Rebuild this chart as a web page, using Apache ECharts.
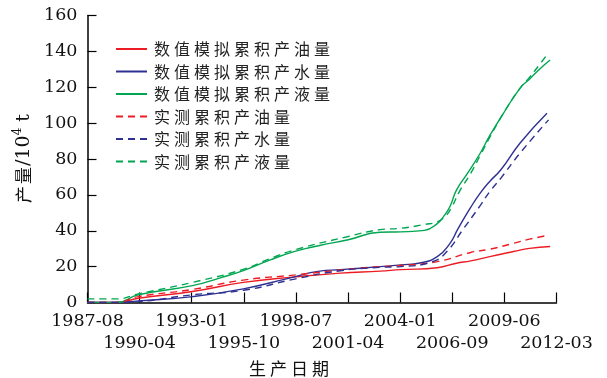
<!DOCTYPE html>
<html>
<head>
<meta charset="utf-8">
<script src="https://cdn.jsdelivr.net/npm/echarts@6/dist/echarts.min.js"></script>
<style>html,body{margin:0;padding:0;background:#fff;}#c{width:607px;height:378px;}</style>
</head>
<body>
<div id="c"></div>
<script>
// x values: months since 1987-08
var tickLabels = ['1987-08','1990-04','1993-01','1995-10','1998-07','2001-04','2004-01','2006-09','2009-06','2012-03'];
var totalMonths = 295;
var seriesNames = ['数值模拟累积产油量','数值模拟累积产水量','数值模拟累积产液量','实测累积产油量','实测累积产水量','实测累积产液量'];

var simOil = [[0,0],[18,0],[32,2.4],[66,6.1],[98,11.2],[131,14.3],[159,16.4],[184,17.5],[197,18.3],[220,19.4],[232,21.9],[241,23.2],[253,25.6],[268,28.4],[278,30.2],[291,31.2]];
var simWater = [[0,0],[18,0],[32,0.9],[66,3.3],[98,7.6],[127,13.6],[146,17.5],[159,18.3],[184,20],[197,21],[209,22],[220,25.6],[228,33],[233,41],[241,53],[247,61],[253,67.5],[260,74],[272,88.8],[289,105.5]];
var simLiquid = [[0,0],[18,0],[32,4.3],[66,9.4],[83,13.6],[98,17.8],[115,23.8],[131,28.6],[146,31.8],[164,35],[184,39.2],[197,39.4],[212,40.2],[220,44],[224,48],[228,53.5],[232,62.5],[239,72],[247,83.2],[253,93],[261,104.6],[272,119.4],[278,124.5],[285,130.6],[291,135.2]];
var obsOil = [[0,0],[18,0],[32,3.3],[66,7.3],[98,12.5],[131,15.4],[164,18.6],[184,20],[197,20.6],[220,22.8],[241,27.9],[253,29.7],[268,33],[278,35.3],[290,37.5]];
var obsWater = [[0,0],[18,0],[32,0.5],[66,4.3],[98,6.8],[131,13.2],[159,17.7],[184,19.6],[197,20],[217,22.8],[226,28.4],[236,40.5],[247,54],[253,61.8],[260,69.3],[272,83.2],[290,101.8]];
var obsLiquid = [[0,2],[18,2],[32,4.8],[66,11.2],[98,18.5],[115,24.5],[131,29.5],[164,36.8],[184,40.6],[197,41.4],[212,43.5],[220,45],[225,48],[229,53],[234,62],[241,72],[247,82],[253,92],[261,104.6],[272,119.4],[278,125.5],[285,133.4],[290,139.3]];

var step = totalMonths / (tickLabels.length - 1);
function toIdx(arr){ return arr.map(function(p){ return [p[0]/step, p[1]]; }); }
function spaced(s, tag){ return s.split('').map(function(ch){ return '{' + tag + '|' + ch + '}'; }).join(''); }

var RED = '#ED1C24', BLUE = '#2E3192', GREEN = '#00A651';
var serif = '"DejaVu Serif","Liberation Serif",serif';
var cjk = '"Noto Sans CJK SC","Noto Sans",sans-serif';

function mk(name, data, color, dashed){
  return {
    name: name, type: 'line', data: toIdx(data), symbol: 'none', showSymbol: false,
    smooth: 0.5, xAxisIndex: 0,
    lineStyle: {color: color, width: 1.4, type: dashed ? [7,5] : 'solid'},
    itemStyle: {color: color}
  };
}

function xAxisFor(parity, margin, showLine){
  return {
    type: 'value', min: 0, max: tickLabels.length - 1, interval: 1, position: 'bottom',
    splitLine: {show: false},
    axisLine: {show: showLine, lineStyle: {color: '#000', width: 1.5}},
    axisTick: {show: showLine, inside: true, length: 10, lineStyle: {color: '#000', width: 1.2}},
    axisLabel: {
      interval: 0, margin: margin, fontFamily: serif, fontSize: 17.5, color: '#111',
      showMinLabel: true, showMaxLabel: true, hideOverlap: false,
      formatter: function(v){ var i = Math.round(v); return (i % 2 === parity) ? (tickLabels[i] || '') : ''; }
    }
  };
}

var chart = echarts.init(document.getElementById('c'), null, {renderer: 'canvas'});
chart.setOption({
  animation: false,
  backgroundColor: '#fff',
  grid: {left: 87.5, right: 50.5, top: 15.5, bottom: 75.5, containLabel: false},
  legend: {
    orient: 'vertical', left: 110, top: 36,
    itemWidth: 31, itemHeight: 14, itemGap: 6.5,
    itemStyle: {opacity: 0},
    formatter: function(n){ return spaced(n, 'a'); },
    textStyle: {
      rich: {a: {fontFamily: cjk, fontSize: 16, lineHeight: 18, color: '#222', padding: [0,2,0,2]}}
    },
    data: seriesNames
  },
  xAxis: [xAxisFor(0, 10, true), xAxisFor(1, 32, false)],
  yAxis: {
    type: 'value', min: 0, max: 160, interval: 20,
    splitLine: {show: false},
    axisLine: {show: true, lineStyle: {color: '#000', width: 1.5}},
    axisTick: {show: true, inside: true, length: 9, lineStyle: {color: '#000', width: 1.2}},
    axisLabel: {margin: 10, fontFamily: serif, fontSize: 17.5, color: '#111'},
    name: spaced('产量', 'c') + '{s|/10}{sup|4}{s| t}',
    nameLocation: 'middle', nameGap: 50, nameRotate: 90,
    nameTextStyle: {
      rich: {
        c: {fontFamily: cjk, fontSize: 17, color: '#111', padding: [0,1,0,1]},
        s: {fontFamily: serif, fontSize: 19, color: '#111'},
        sup: {fontFamily: serif, fontSize: 12, color: '#111', verticalAlign: 'bottom', padding: [0,0,12,0]}
      }
    }
  },
  graphic: [{
    type: 'text', left: 249, top: 360,
    style: {
      text: spaced('生产日期', 'g'),
      rich: {g: {fontFamily: cjk, fontSize: 17, fill: '#111', padding: [0,2,0,2]}}
    }
  }],
  series: [
    mk(seriesNames[0], simOil, RED, false),
    mk(seriesNames[1], simWater, BLUE, false),
    mk(seriesNames[2], simLiquid, GREEN, false),
    mk(seriesNames[3], obsOil, RED, true),
    mk(seriesNames[4], obsWater, BLUE, true),
    mk(seriesNames[5], obsLiquid, GREEN, true)
  ]
});
</script>
</body>
</html>
